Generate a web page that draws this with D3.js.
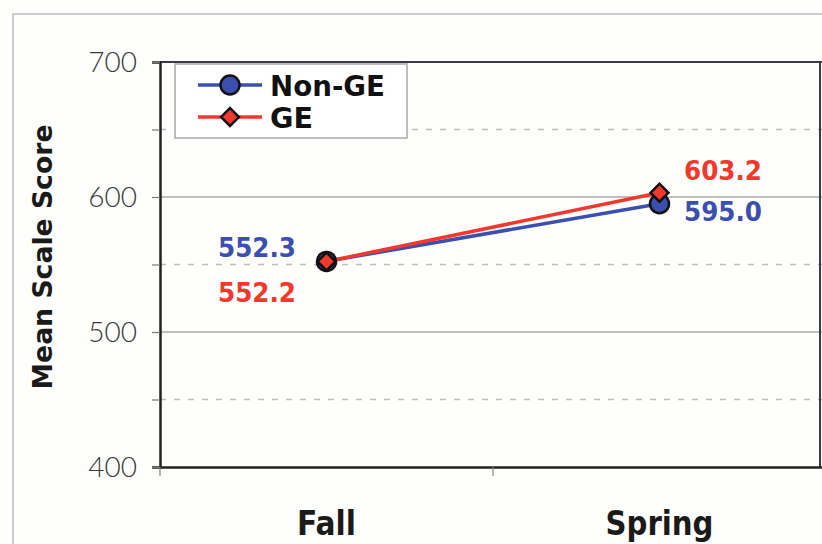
<!DOCTYPE html>
<html><head><meta charset="utf-8">
<script src="https://cdn.jsdelivr.net/npm/d3@7"></script>
<style>body{margin:0;background:#fff;} svg{display:block;}</style>
</head><body>
<svg id="chart" width="822" height="544"></svg>
<script>
const categories = ["Fall", "Spring"];
const nonGE = [552.3, 595.0];
const ge = [552.2, 603.2];
const seriesNames = ["Non-GE", "GE"];
const yTicks = [400, 500, 600, 700];
const gridSolid = [500, 600];
const gridDashed = [450, 550, 650];

(function () {
const svg = d3.select("#chart");
const W = 822, H = 544;
const pLeft = 160, pRight = 826, pTop = 62, pBottom = 467;
const blue = "#3b4fae", red = "#f2382c";
const font = "Lato, 'DejaVu Sans', sans-serif";
const bfont = "'DejaVu Sans', sans-serif";

svg.append("rect").attr("width", W).attr("height", H).attr("fill", "#fefefc");
svg.append("rect").attr("x", 13).attr("y", 14).attr("width", 900).attr("height", 600)
  .attr("fill", "none").attr("stroke", "#b8bcc0").attr("stroke-width", 1.5);

const x = d3.scaleBand().domain(categories).range([pLeft, pRight]);
const y = d3.scaleLinear().domain([400, 700]).range([pBottom, pTop]);

svg.append("g").selectAll("line").data(gridSolid).join("line")
  .attr("x1", pLeft).attr("x2", W).attr("y1", d => y(d)).attr("y2", d => y(d))
  .attr("stroke", "#a9aba8").attr("stroke-width", 1.5);
svg.append("g").selectAll("line").data(gridDashed).join("line")
  .attr("x1", pLeft).attr("x2", W).attr("y1", d => y(d)).attr("y2", d => y(d))
  .attr("stroke", "#bdbdbd").attr("stroke-width", 1.5).attr("stroke-dasharray", "6,8");

svg.append("line").attr("x1", pLeft).attr("x2", W).attr("y1", pTop).attr("y2", pTop)
  .attr("stroke", "#3a3a48").attr("stroke-width", 2);
svg.append("line").attr("x1", 820).attr("x2", 820).attr("y1", pTop).attr("y2", pBottom)
  .attr("stroke", "#3a3a48").attr("stroke-width", 2);

const yAxis = d3.axisLeft(y).tickValues(d3.range(400, 701, 50)).tickSize(8)
  .tickFormat(d => yTicks.includes(d) ? d : "");
const gy = svg.append("g").attr("transform", `translate(${pLeft},0)`).call(yAxis);
gy.select(".domain").attr("stroke", "#222").attr("stroke-width", 2.5);
gy.selectAll(".tick line").attr("stroke", "#777").attr("stroke-width", 1.2);
gy.selectAll(".tick text").attr("font-family", font).attr("font-size", 28)
  .attr("font-weight", 300).attr("fill", "#3a3a3a").attr("x", -23).attr("dy", "0.35em");

const xAxis = d3.axisBottom(x).tickSize(0).tickFormat("");
const gx = svg.append("g").attr("transform", `translate(0,${pBottom})`).call(xAxis);
gx.select(".domain").attr("stroke", "#222").attr("stroke-width", 2.5);
const bounds = [pLeft, x("Spring")];
svg.append("g").selectAll("line").data(bounds).join("line")
  .attr("x1", d => d).attr("x2", d => d).attr("y1", pBottom).attr("y2", pBottom + 9)
  .attr("stroke", "#888").attr("stroke-width", 1.2);
const catW = {Fall: 59, Spring: 108};
svg.append("g").selectAll("text").data(categories).join("text")
  .attr("x", d => x(d) + x.bandwidth() / 2).attr("y", 535)
  .attr("text-anchor", "middle").attr("font-family", bfont).attr("font-weight", 700)
  .attr("font-size", 33).attr("fill", "#1a1a1a")
  .attr("textLength", d => catW[d]).attr("lengthAdjust", "spacingAndGlyphs").text(d => d);

svg.append("text").attr("transform", "translate(52,257) rotate(-90)")
  .attr("text-anchor", "middle").attr("font-family", bfont).attr("font-weight", 700)
  .attr("font-size", 26).attr("fill", "#1a1a1a")
  .attr("textLength", 265).attr("lengthAdjust", "spacingAndGlyphs").text("Mean Scale Score");

const cx = d => x(d) + x.bandwidth() / 2;
const line = d3.line().x(d => cx(d.c)).y(d => y(d.v));
const dBlue = categories.map((c, i) => ({c, v: nonGE[i]}));
const dRed = categories.map((c, i) => ({c, v: ge[i]}));

svg.append("path").datum(dBlue).attr("d", line).attr("fill", "none")
  .attr("stroke", blue).attr("stroke-width", 3.5);
svg.append("path").datum(dRed).attr("d", line).attr("fill", "none")
  .attr("stroke", red).attr("stroke-width", 3.5);

svg.append("g").selectAll("circle").data(dBlue).join("circle")
  .attr("cx", d => cx(d.c)).attr("cy", d => y(d.v)).attr("r", 9.5)
  .attr("fill", blue).attr("stroke", "#111").attr("stroke-width", 2.5);
svg.append("g").selectAll("path").data(dRed).join("path")
  .attr("transform", d => `translate(${cx(d.c)},${y(d.v)}) rotate(45)`)
  .attr("d", d3.symbol().type(d3.symbolSquare).size(160))
  .attr("fill", red).attr("stroke", "#111").attr("stroke-width", 2.5);

const lbl = (t, xx, yy, col) => svg.append("text").attr("x", xx).attr("y", yy)
  .attr("font-family", bfont).attr("font-weight", 700).attr("font-size", 26)
  .attr("fill", col).attr("textLength", 78).attr("lengthAdjust", "spacingAndGlyphs").text(t);
lbl(nonGE[0].toFixed(1), 218, 257, blue);
lbl(ge[0].toFixed(1), 218, 302, red);
lbl(ge[1].toFixed(1), 684, 180, red);
lbl(nonGE[1].toFixed(1), 684, 221, blue);

const lg = svg.append("g");
lg.append("rect").attr("x", 175).attr("y", 64).attr("width", 232).attr("height", 74)
  .attr("fill", "#fff").attr("stroke", "#a8a8a8").attr("stroke-width", 1.5);
const legItems = [{n: seriesNames[0], col: blue, y: 85, w: 115}, {n: seriesNames[1], col: red, y: 117, w: 43}];
legItems.forEach((it, i) => {
  lg.append("line").attr("x1", 198).attr("x2", 262).attr("y1", it.y).attr("y2", it.y)
    .attr("stroke", it.col).attr("stroke-width", 3.5);
  if (i === 0) {
    lg.append("circle").attr("cx", 230).attr("cy", it.y).attr("r", 9.5)
      .attr("fill", blue).attr("stroke", "#111").attr("stroke-width", 2.5);
  } else {
    lg.append("path").attr("transform", `translate(230,${it.y}) rotate(45)`)
      .attr("d", d3.symbol().type(d3.symbolSquare).size(160))
      .attr("fill", red).attr("stroke", "#111").attr("stroke-width", 2.5);
  }
  lg.append("text").attr("x", 270).attr("y", it.y + 11).attr("font-family", bfont)
    .attr("font-weight", 700).attr("font-size", 28).attr("fill", "#111")
    .attr("textLength", it.w).attr("lengthAdjust", "spacingAndGlyphs").text(it.n);
});
})();
</script>
</body></html>
